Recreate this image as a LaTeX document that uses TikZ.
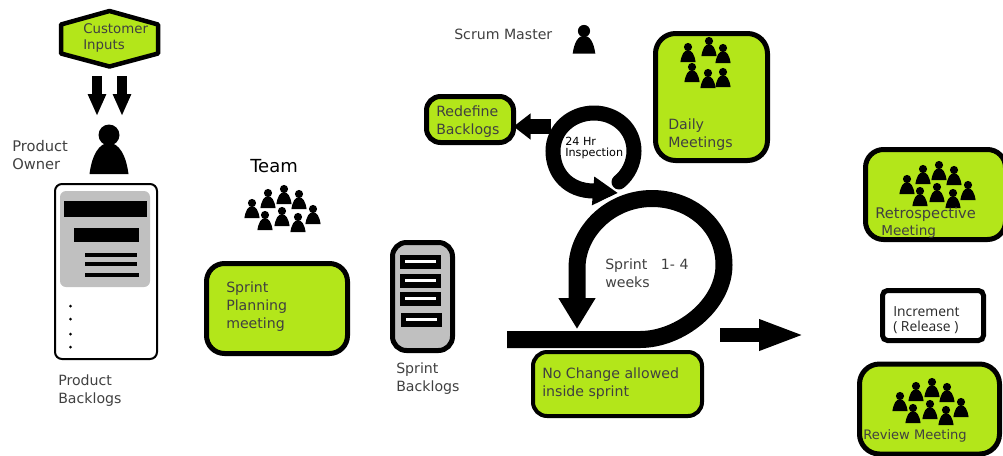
\documentclass[tikz,border=0pt]{standalone}
\usepackage{fontspec}
\setmainfont{DejaVu Sans}
\newfontfamily\incfont{Open Sans}
\usetikzlibrary{
    arrows.meta,
    positioning
}
\definecolor{sprintgreen}{RGB}{179, 230, 26}
\definecolor{paneelgray}{RGB}{192, 192, 192}
\definecolor{labelgray}{RGB}{64, 64, 64}
\def\px{0.75pt}
\newcommand{\person}[3]{
    \begin{scope}[shift={(#1,#2)}, scale=#3]
        \fill (0,0) circle (10.5);
        \fill (-19.5,39) .. controls (-17,20) and (-10,8) .. (0,8) .. controls (10,8) and (17,20) .. (19.5,39) -- cycle;
    \end{scope}
}
\newcommand{\crowd}[2]{
    \begin{scope}[shift={(#1,#2)}]
        \foreach \dx/\dy in {0/0, 16/-10, 32/-14, 47/-9, 61/6, 13/12, 30/8, 46/14} {
            \person{\dx}{\dy}{0.39}
        }
    \end{scope}
}

\begin{document}
\begin{tikzpicture}[
        x=0.75pt, y=-0.75pt,
        box/.style={draw, line width=5*\px, fill=sprintgreen, rounded corners=18*\px, inner sep=0pt, outer sep=0pt},
        txt/.style={anchor=west, align=left, inner sep=0pt, text=labelgray, font=\fontsize{10.6}{13.5}\selectfont},
        bar/.style={fill=black},
        blockarrow/.style={-{Triangle[length=#1*\px, width=28*\px]}, line width=14*\px},
        blockarrow/.default=22,
        loop/.style={line width=17*\px}
    ]
        \useasboundingbox (0,0) rectangle (1003,455);

        % Customer inputs
        \draw[line width=4.5*\px, fill=sprintgreen, line join=round] (109.5,11) -- (158,24.5) -- (158,53.5) -- (109.5,66.5) -- (61,53.5) -- (61,24.5) -- cycle;
        \node[txt, font=\fontsize{10}{12}\selectfont] (inputs) at (83,37.5) {Customer\\Inputs};
        \coordinate (in1) at (97,76);
        \coordinate (out1) at (97,116);
        \coordinate (in2) at (122,76);
        \coordinate (out2) at (122,116);
        \draw[-{Triangle[length=22*\px, width=17*\px]}, line width=10*\px] (in1) -- (out1);
        \draw[-{Triangle[length=22*\px, width=17*\px]}, line width=10*\px] (in2) -- (out2);

        % Product owner and product backlogs
        \person{109}{135}{1}
        \node[txt, font=\fontsize{11}{13.5}\selectfont] (owner) at (12,155) {Product\\Owner};
        \node[draw, line width=2*\px, rounded corners=7*\px, minimum width=102*\px, minimum height=175*\px, inner sep=0pt] (pbox) at (106,271.5) {};
        \node[fill=paneelgray, rounded corners=6*\px, minimum width=90*\px, minimum height=96*\px, inner sep=0pt] (ppanel) at (105,239) {};
        \fill[bar] (64,201) rectangle (147,217);
        \fill[bar] (74,228) rectangle (139,242);
        \fill[bar] (85,253) rectangle (137,257);
        \fill[bar] (85,262) rectangle (137,266);
        \fill[bar] (85,273) rectangle (139,277);
        \foreach \dy in {306, 319, 334, 347} {
            \fill (70.5,\dy) circle (1.5);
        }
        \node[txt] (plabel) at (58,391) {Product\\Backlogs};

        % Team
        \node[anchor=west, inner sep=0pt, font=\fontsize{13.5}{15}\selectfont] (team) at (250,166) {Team};
        \crowd{252}{203}
        \node[box, minimum width=141*\px, minimum height=90*\px] (planning) at (277,308.5) {};
        \node[txt] (planlabel) at (226,307) {Sprint\\Planning\\meeting};

        % Sprint backlogs
        \node[box, fill=paneelgray, rounded corners=14*\px, minimum width=60*\px, minimum height=108*\px] (sbox) at (422.5,296.5) {};
        \foreach \rx/\ry in {400/255, 400/274, 400/292, 401/313} {
            \fill[bar] (\rx,\ry) rectangle ++(41,13.5);
            \fill[white] (\rx+5,\ry+5) rectangle ++(31,3);
        }
        \node[txt] (slabel) at (396,379) {Sprint\\Backlogs};

        % Scrum master
        \node[txt] (master) at (454,34) {Scrum Master};
        \person{584}{31}{0.58}

        % Big sprint loop
        \coordinate (barstart) at (507,339.5);
        \coordinate (barend) at (640,339.5);
        \coordinate (rout) at (720,335);
        \coordinate (rtip) at (805,335);
        \draw[loop, -{Triangle[length=31*\px, width=35*\px]}] (barstart) -- (barend) .. controls (680,339.5) and (724,305) .. (724,265) .. controls (724,225) and (690,198.5) .. (652,198.5) .. controls (610,198.5) and (577,232) .. (577,268) -- (577,329);
        \draw[blockarrow=46] (rout) -- (rtip);
        \node[txt] (sprintlabel) at (605,273) {Sprint~~~1- 4\\weeks};

        % Inspection loop
        \draw[line width=15*\px, line cap=round, -{Triangle[length=25*\px, width=27*\px]}] (619,182) .. controls (628,175) and (634,163) .. (634,151) .. controls (634,129) and (616,113) .. (594,113) .. controls (572,113) and (553,129) .. (553,151) .. controls (553,173) and (568,191) .. (594,191) -- (618,193);
        \draw[white, line width=1.5*\px] (603,201) -- (619,194);
        \node[inner sep=0pt, anchor=west, align=left, font=\fontsize{8.4}{9}\selectfont] (insplabel) at (565,148) {24 Hr\\Inspection};

        % Redefine backlogs
        \node[box, rounded corners=14*\px, minimum width=87*\px, minimum height=46*\px] (redefine) at (470,119.5) {};
        \node[txt] (redeflabel) at (436,122) {Redefine\\Backlogs};
        \coordinate (inspedge) at (551,126.5);
        \draw[-{Triangle[length=17*\px, width=25*\px]}, line width=15*\px] (inspedge) -- (redefine.east |- inspedge);

        % Daily meetings
        \node[box, rounded corners=20*\px, minimum width=112*\px, minimum height=127*\px] (daily) at (711.5,97) {};
        \foreach \hx/\hy in {688/47, 709/41, 723/48, 692/67, 708/73, 723/72} {
            \person{\hx}{\hy}{0.39}
        }
        \node[txt] (dailylabel) at (668,135) {Daily\\Meetings};

        % No change
        \node[box, line width=4*\px, rounded corners=14*\px, minimum width=169*\px, minimum height=64*\px] (nochange) at (617.5,384) {};
        \node[txt] (nolabel) at (542,383.5) {No Change allowed\\inside sprint};

        % Retrospective
        \node[box, minimum width=140*\px, minimum height=90*\px] (retro) at (935.5,194.5) {};
        \crowd{907}{179}
        \node[txt, font=\fontsize{11}{13.5}\selectfont] (retrolabel) at (875,214) {Retrospective};
        \node[txt, font=\fontsize{10.2}{13.5}\selectfont] (retrolabeltwo) at (881,232) {Meeting};

        % Increment
        \node[draw, line width=5*\px, fill=white, rounded corners=5*\px, minimum width=101*\px, minimum height=50*\px, inner sep=0pt] (increment) at (933,315.5) {};
        \node[txt, text=black!85, font=\incfont\fontsize{10.4}{11.5}\selectfont] (inclabel) at (893,320) {Increment\\( Release )};

        % Review
        \node[box, rounded corners=20*\px, minimum width=140*\px, minimum height=90*\px] (review) at (929.5,409) {};
        \crowd{900}{396}
        \node[txt, font=\fontsize{9.8}{12}\selectfont] (reviewlabel) at (863,436) {Review Meeting};
    \end{tikzpicture}
\end{document}
